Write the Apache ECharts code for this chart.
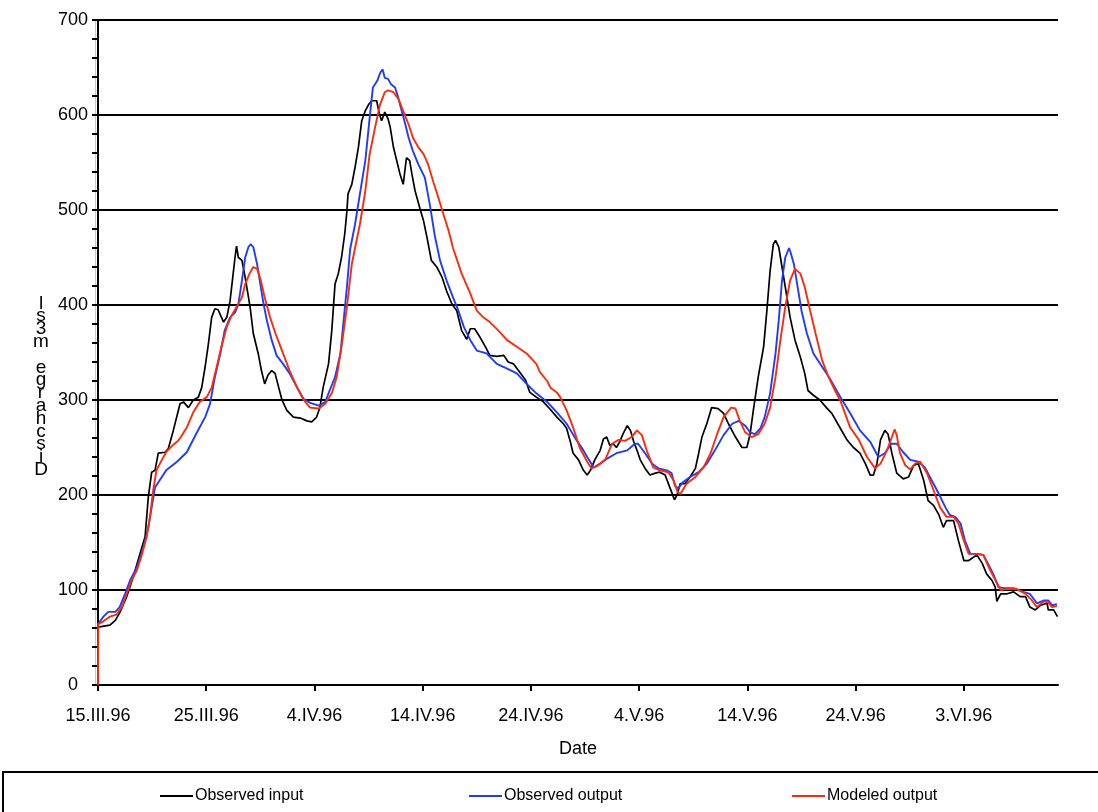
<!DOCTYPE html>
<html>
<head>
<meta charset="utf-8">
<script src="https://cdn.jsdelivr.net/npm/echarts@6/dist/echarts.min.js"></script>
<style>
  html, body { margin: 0; padding: 0; background: #fff; }
  #chart { width: 1098px; height: 812px; }
</style>
</head>
<body>
<div id="chart"></div>
<script>
// x values are days counted from 15.III.96
var dateLabels = ["15.III.96", "25.III.96", "4.IV.96", "14.IV.96", "24.IV.96", "4.V.96", "14.V.96", "24.V.96", "3.VI.96"];
var yTicks = [0, 100, 200, 300, 400, 500, 600, 700];

// Observed input (black)
var inputDays = [0,1.1,1.6,2.0,2.65,3.26,3.9,4.35,4.65,4.96,5.27,5.57,6.2,6.5,6.96,7.58,7.9,8.35,8.8,9.27,9.58,9.9,10.2,10.5,10.8,11.1,11.6,11.9,12.2,12.45,12.66,12.8,12.97,13.3,13.6,14.05,14.35,14.8,15.1,15.4,15.7,16.05,16.36,16.7,17.0,17.45,18.05,18.7,19.3,19.75,20.2,20.5,20.8,21.3,21.6,21.9,22.2,22.5,22.8,23.0,23.1,23.45,23.75,24.06,24.37,24.68,25.0,25.3,25.75,26.0,26.2,26.5,26.8,27.0,27.3,27.6,27.9,28.2,28.5,28.8,29.0,29.3,29.76,30.07,30.4,30.8,31.3,31.8,32.2,32.7,33.15,33.6,34.07,34.4,34.8,35.3,35.8,36.2,36.85,37.5,37.9,38.4,38.85,39.5,39.9,40.5,41.15,41.8,42.4,43.0,43.3,43.6,43.9,44.4,44.85,45.2,45.5,45.9,46.4,46.7,47.0,47.3,47.6,47.9,48.2,48.5,48.9,49.2,49.5,49.8,50.1,50.55,51.0,51.5,51.9,52.4,52.7,53.0,53.26,53.5,53.8,54.25,54.7,55.2,55.5,55.8,56.25,56.7,57.3,57.8,58.25,58.9,59.5,59.95,60.25,60.55,61.0,61.5,61.8,62.1,62.4,62.6,62.9,63.2,63.5,63.95,64.4,64.9,65.3,65.6,66.1,66.7,67.3,67.8,68.1,68.6,69.2,69.8,70.4,70.9,71.35,71.65,71.97,72.3,72.7,73.0,73.35,73.8,74.4,74.9,75.35,75.8,76.3,76.7,77.2,77.7,78.1,78.4,79.05,79.5,80.0,80.45,81.2,81.7,82.1,82.6,82.9,83.05,83.4,84.0,84.6,85.2,85.7,86.1,86.6,87.1,87.7,87.8,88.3,88.65];
var inputQ = [61,63,68,76,93,114,139,156,198,224,226,244,245,249,268,296,298,292,300,303,313,335,359,387,396,395,382,387,404,429,450,462,450,447,429,398,370,349,331,317,326,331,328,313,300,289,282,281,278,277,282,292,313,338,373,422,433,450,475,499,517,527,545,566,594,604,611,615,615,601,594,603,596,587,566,552,538,527,555,552,538,520,501,489,471,447,440,429,415,401,394,373,364,375,375,366,356,347,346,347,340,338,331,321,308,303,298,290,282,275,270,258,244,237,226,221,226,237,247,259,261,252,254,250,256,264,273,268,256,247,237,228,221,223,224,221,212,203,195,200,212,212,219,228,244,261,275,292,291,286,275,261,250,250,264,289,324,356,394,436,464,468,461,440,419,387,363,345,328,310,305,300,292,286,280,270,258,250,244,233,221,221,233,258,268,264,244,223,217,219,231,233,215,194,189,179,166,173,173,152,131,131,137,128,117,110,103,88,96,96,98,93,93,82,79,84,86,79,79,72];

// Observed output (blue)
var outputDays = [0,0.5,0.95,1.6,2.0,2.5,2.96,3.6,4.2,4.65,4.96,5.27,5.73,6.3,7.3,8.2,9.1,9.9,10.35,10.8,11.3,11.7,12.2,12.66,12.97,13.3,13.6,13.9,14.1,14.35,14.7,15.0,15.3,15.6,16.05,16.5,17.1,17.7,18.4,19.0,19.6,20.4,21.0,21.4,21.9,22.4,22.7,23.0,23.3,23.75,24.2,24.7,25.1,25.4,25.8,26.1,26.3,26.5,26.8,27.1,27.45,27.75,28.07,28.4,28.7,29.1,29.6,30.2,30.7,31.1,31.6,32.2,32.8,33.3,33.8,34.4,35.0,35.9,36.85,37.8,38.7,39.6,40.5,41.5,42.4,43.3,44.2,44.85,45.2,45.8,46.4,47.0,47.9,48.9,49.6,49.9,50.55,51.2,51.8,52.55,53.0,53.3,53.6,54.1,54.7,55.5,56.25,57.0,57.8,58.6,59.2,59.8,60.25,60.7,61.2,61.6,62.1,62.6,62.9,63.2,63.5,63.85,64.0,64.3,64.6,65.0,65.5,66.1,66.9,67.65,68.6,69.5,70.4,71.35,72.1,72.7,73.3,73.8,74.4,75.05,75.8,76.4,77.05,77.7,78.3,78.7,79.2,79.7,80.1,80.6,81.2,81.8,82.3,82.75,83.2,83.7,84.6,85.5,86.1,86.75,87.4,87.8,88.15,88.6];
var outputQ = [64,72,77,77,82,96,110,124,145,166,187,208,216,226,235,245,265,282,296,324,349,373,387,392,401,426,450,461,464,461,443,422,401,384,363,347,338,328,313,301,297,294,298,310,324,349,384,419,459,485,517,552,597,629,636,645,648,639,638,632,629,618,604,590,576,562,548,534,503,474,447,426,408,394,377,363,352,349,338,333,328,317,307,298,287,275,258,247,240,229,233,238,244,247,254,254,244,233,228,226,223,210,207,214,219,224,233,247,263,275,278,273,266,264,270,282,307,349,384,426,450,460,455,443,422,394,370,349,335,322,303,286,268,256,240,244,254,254,245,237,235,229,215,201,187,179,177,170,152,138,138,137,126,116,103,102,102,98,96,86,89,89,84,85];

// Modeled output (red)
var modelDays = [0,0.02,0.5,1.1,1.7,2.2,2.65,3.1,3.6,4.0,4.5,4.8,5.1,5.4,5.9,6.35,6.96,7.3,7.6,8.2,8.8,9.4,10.05,10.5,10.97,11.4,11.9,12.35,12.8,13.3,13.6,14.0,14.35,14.7,15.04,15.4,15.9,16.4,17.0,17.7,18.4,19.0,19.6,20.4,21.0,21.6,22.05,22.5,23.0,23.45,23.75,24.2,24.7,25.1,25.6,26.06,26.5,26.8,27.3,27.75,28.2,28.7,29.1,29.6,30.07,30.5,31.0,31.45,31.9,32.4,32.8,33.6,34.4,35.0,35.6,36.2,37.0,37.8,38.7,39.6,40.5,40.85,41.5,41.8,42.4,42.7,43.3,43.9,44.5,45.2,45.6,46.2,46.9,47.5,48.1,48.7,49.3,49.8,50.25,50.7,51.3,51.9,52.7,53.2,53.55,53.8,54.4,55.2,55.95,56.6,57.2,57.8,58.5,58.9,59.3,59.8,60.4,61.0,61.6,62.1,62.6,63.05,63.5,63.95,64.4,64.9,65.3,65.8,66.3,66.9,67.5,68.1,68.6,69.5,70.3,71.05,71.8,72.3,72.9,73.35,73.6,73.8,74.1,74.6,75.05,75.5,75.97,76.6,77.2,77.8,78.4,79.05,79.5,80.0,80.45,81.2,81.8,82.3,82.75,83.4,84.0,84.9,85.7,86.3,86.75,87.4,87.8,88.15,88.6];
var modelQ = [0,64,67,72,74,82,96,110,121,135,156,177,205,226,237,246,253,256,260,271,287,298,303,313,335,356,377,389,398,408,422,433,440,438,426,408,387,370,352,331,313,300,292,291,296,307,324,356,398,443,460,485,520,559,587,611,624,626,624,617,604,590,576,566,559,548,529,513,496,478,460,433,412,394,387,382,373,363,356,349,338,329,320,313,308,303,289,271,250,235,228,231,238,254,258,257,261,268,263,247,229,226,224,215,203,201,212,219,229,244,264,282,292,291,278,266,261,264,275,292,324,363,398,426,438,433,419,394,370,342,324,310,299,271,258,240,228,233,247,261,269,263,244,231,227,233,235,223,205,187,177,177,170,152,138,138,137,124,114,100,101,101,96,89,82,88,87,82,83];

function zip(xs, ys) {
    var out = [];
    for (var i = 0; i < xs.length; i++) {
        out.push([xs[i], ys[i]]);
    }
    return out;
}

var tickDays = dateLabels.map(function (d, i) { return i * 10; });
var font = "Liberation Sans";
var chart = echarts.init(document.getElementById("chart"));

chart.setOption({
    animation: false,
    textStyle: { fontFamily: font, color: "#000" },
    grid: { left: 98, right: 40, top: 20, bottom: 127 },
    xAxis: {
        type: "value",
        min: 0,
        max: 88.7,
        interval: 10,
        name: "Date",
        nameLocation: "middle",
        nameGap: 55,
        nameTextStyle: { fontSize: 18, color: "#000", fontFamily: font },
        axisLine: { show: true, lineStyle: { color: "#000", width: 2 } },
        axisTick: { show: true, length: 6, customValues: tickDays, lineStyle: { color: "#000", width: 2 } },
        axisLabel: {
            fontSize: 18, color: "#000", margin: 22, fontFamily: font,
            customValues: tickDays,
            formatter: function (v) { return dateLabels[Math.round(v / 10)] || ""; }
        },
        splitLine: { show: false }
    },
    yAxis: {
        type: "value",
        min: yTicks[0],
        max: yTicks[yTicks.length - 1],
        interval: 100,
        axisLine: { show: true, lineStyle: { color: "#000", width: 2 } },
        axisTick: { show: true, length: 6, lineStyle: { color: "#000", width: 2 } },
        minorTick: { show: true, splitNumber: 5, length: 6, lineStyle: { color: "#000", width: 2 } },
        axisLabel: { fontSize: 18, color: "#000", margin: 25, align: "center", fontFamily: font },
        splitLine: { show: true, lineStyle: { color: "#000", width: 2 } }
    },
    legend: [
        { data: ["Observed input"], left: 160, top: 788 },
        { data: ["Observed output"], left: 469, top: 788 },
        { data: ["Modeled output"], left: 792, top: 788 }
    ].map(function (l) {
        l.icon = "rect";
        l.itemWidth = 33;
        l.itemHeight = 2;
        l.itemGap = 0;
        l.padding = 0;
        l.textStyle = { fontSize: 16, color: "#000", fontFamily: font, padding: [0, 0, 0, -3] };
        return l;
    }),
    graphic: [
        {
            type: "rect",
            shape: { x: 3, y: 772, width: 1200, height: 100 },
            style: { fill: "none", stroke: "#000", lineWidth: 2 },
            silent: true
        },
        {
            type: "line",
            shape: { x1: 95.5, y1: 20, x2: 95.5, y2: 685 },
            style: { stroke: "#c8c8c8", lineWidth: 1 },
            silent: true
        },
        {
            type: "text",
            x: 41,
            y: 297,
            style: {
                text: ["l", "s", "3", "m", " ", "e", "g", "r", "a", "h", "c", "s", "i", "D"].join("\n"),
                font: "19px " + font,
                lineHeight: 12.8,
                fill: "#000",
                align: "center"
            },
            silent: true
        }
    ],
    series: [
        {
            name: "Observed input", type: "line", symbol: "none",
            data: zip(inputDays, inputQ),
            lineStyle: { color: "#000000", width: 1.7 },
            itemStyle: { color: "#000000" }
        },
        {
            name: "Observed output", type: "line", symbol: "none",
            data: zip(outputDays, outputQ),
            lineStyle: { color: "#1e3cff", width: 1.9 },
            itemStyle: { color: "#1e3cff" }
        },
        {
            name: "Modeled output", type: "line", symbol: "none",
            data: zip(modelDays, modelQ),
            lineStyle: { color: "#ff2a0a", width: 1.9 },
            itemStyle: { color: "#ff2a0a" }
        }
    ]
});
</script>
</body>
</html>
